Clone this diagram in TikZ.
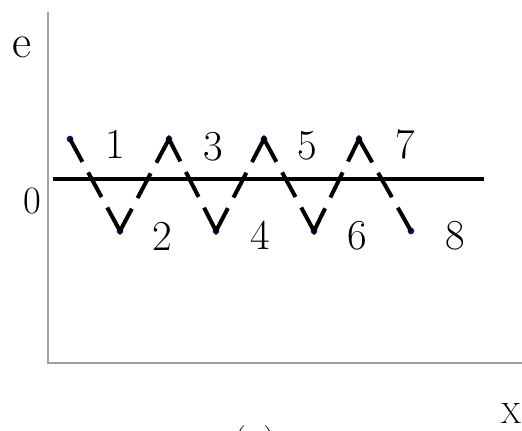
\documentclass[tikz,border=0pt]{standalone}
\usepackage{tikz}
\usetikzlibrary{positioning}
\definecolor{axgray}{HTML}{A0A0A0}
\definecolor{dotblue}{HTML}{10107A}
\tikzset{
  % thin gray frame of the plot
  axis/.style  = {draw=axgray, line width=0.8pt},
  zline/.style = {draw=black, line width=3pt},
  wave/.style  = {draw=black, line width=3pt, line join=miter,
                  dash pattern=on 39pt off 9pt on 21pt off 9pt, dash phase=19.5pt},
  pt/.style    = {circle, fill=dotblue, inner sep=0pt, minimum size=5pt},
  num/.style   = {inner sep=0pt, font=\fontsize{32}{32}\selectfont},
}

\begin{document}
\begin{tikzpicture}[x=0.75pt,y=-0.75pt]
\useasboundingbox (0,0) rectangle (522,430);
% frame
\coordinate (top) at (48,12);
\coordinate (org) at (48,363);
\coordinate (rgt) at (522,363);
\draw[axis] (top) -- (org) -- (rgt);
% zero line
\coordinate (z0) at (53,179);
\coordinate (z1) at (484,179);
\draw[zline] (z0) -- (z1);
% error samples
\foreach \i/\x/\y in {1/70/139, 2/120/231, 3/169/139, 4/216/231,
                      5/264/139, 6/314/231, 7/359/139, 8/411/231}
  {\node[pt] (p\i) at (\x,\y) {};}
\draw[wave] (p1.center) -- (p2.center) -- (p3.center) -- (p4.center)
  -- (p5.center) -- (p6.center) -- (p7.center) -- (p8.center);
% sample numbers
\foreach \i/\x/\y in {1/115/144, 3/213/147, 5/307/146, 7/405/144,
                      2/162/236, 4/260/235, 6/357/236, 8/455/236}
  {\node[num] (n\i) at (\x,\y) {\i};}
% axis labels
\node[inner sep=0pt, font=\fontsize{35}{35}\selectfont] (ylab) at (22,47) {e};
\node[num, font=\fontsize{29}{29}\selectfont] (zlab) at (32,201) {0};
\node[inner sep=0pt, font=\fontsize{22}{22}\selectfont] (xlab) at (511,413) {X};
\node[inner sep=0pt, anchor=north, font=\fontsize{28}{28}\selectfont] (cap) at (255,425) {(a)};
\end{tikzpicture}
\end{document}
